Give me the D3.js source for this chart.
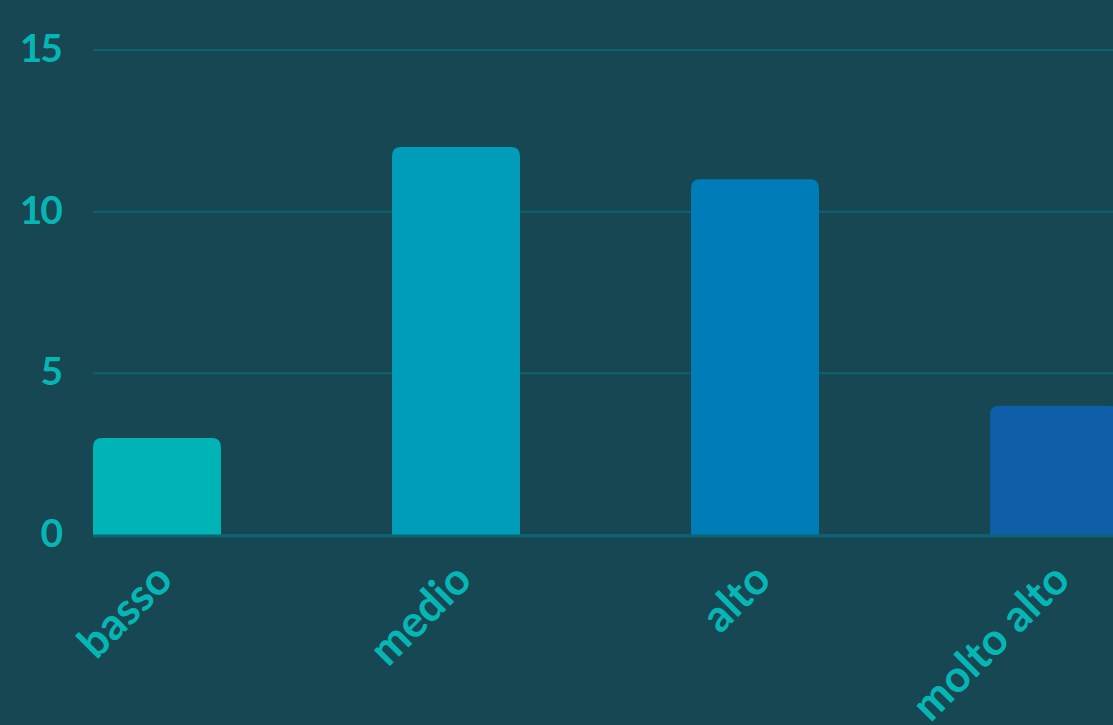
<!DOCTYPE html>
<html lang="it">
<head>
  <meta charset="UTF-8" />
  <title>Livello</title>
  <script src="https://d3js.org/d3.v7.min.js"></script>
  <style>
    body {
      margin: 0;
      background-color: #174753;
      overflow: hidden;
    }
    svg {
      display: block;
      font-family: Lato, "Open Sans", sans-serif;
    }
  </style>
</head>
<body>

<svg id="chart" width="1113" height="725"></svg>

<script>
  const categories = ["basso", "medio", "alto", "molto alto"];
  const values = [3, 12, 11, 4];
  const barColors = ["#00b3b5", "#009dba", "#007cb9", "#0f5fa8"];
  const yTicks = [0, 5, 10, 15];

  const svg = d3.select("#chart");
  const plotLeft = 93, plotRight = 1118, plotTop = 50, plotBottom = 535;

  const x = d3.scaleBand()
    .domain(categories)
    .range([plotLeft, plotRight])
    .paddingInner(0.572)
    .paddingOuter(0);

  const y = d3.scaleLinear()
    .domain([0, 15])
    .range([plotBottom, plotTop]);

  svg.append("rect")
    .attr("width", 1113).attr("height", 725)
    .attr("fill", "#174753");

  // grid
  svg.append("g")
    .selectAll("line")
    .data(yTicks)
    .enter().append("line")
    .attr("x1", plotLeft).attr("x2", 1113)
    .attr("y1", d => y(d)).attr("y2", d => y(d))
    .attr("stroke", "#0f6270")
    .attr("stroke-width", 2);

  // y labels
  svg.append("g")
    .selectAll("text")
    .data(yTicks)
    .enter().append("text")
    .attr("x", 61)
    .attr("y", d => y(d) + 12)
    .attr("text-anchor", "end")
    .attr("fill", "#06b6b4")
    .style("font-size", "39px")
    .style("font-weight", 700)
    .style("letter-spacing", "-2px")
    .text(d => d);

  function topRounded(x0, y0, w, h, r) {
    r = Math.min(r, h, w / 2);
    return `M${x0},${y0 + h}V${y0 + r}Q${x0},${y0} ${x0 + r},${y0}` +
      `H${x0 + w - r}Q${x0 + w},${y0} ${x0 + w},${y0 + r}V${y0 + h}Z`;
  }

  svg.append("g")
    .selectAll("path")
    .data(categories)
    .enter().append("path")
    .attr("d", (d, i) => topRounded(x(d), y(values[i]), x.bandwidth(), y(0) - y(values[i]), 9))
    .attr("fill", (d, i) => barColors[i]);

  // baseline
  svg.append("line")
    .attr("x1", plotLeft).attr("x2", 1113)
    .attr("y1", y(0) + 1).attr("y2", y(0) + 1)
    .attr("stroke", "#0f6270")
    .attr("stroke-width", 3);

  // x labels
  svg.append("g")
    .selectAll("text")
    .data(categories)
    .enter().append("text")
    .attr("transform", d => `translate(${x(d) + x.bandwidth() / 2 + 18},${582}) rotate(-45)`)
    .attr("text-anchor", "end")
    .attr("fill", "#06b6b4")
    .style("font-size", "44px")
    .style("font-weight", 700)
    .text(d => d);
</script>

</body>
</html>
